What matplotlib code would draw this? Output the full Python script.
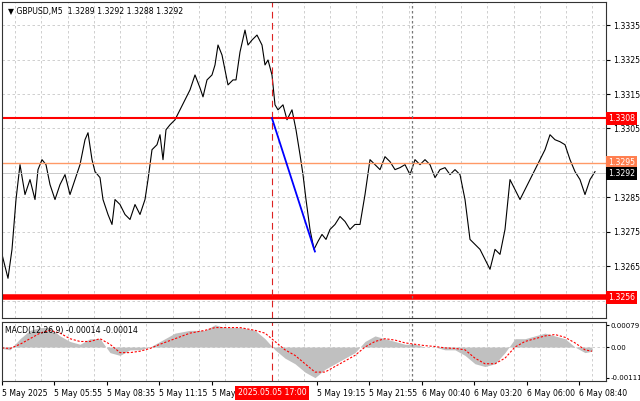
import matplotlib
matplotlib.use("Agg")
import matplotlib.pyplot as plt
import numpy as np

px = [2,8,12,16,20,25,30,35,38,42,46,50,55,60,65,70,75,80,85,88,92,95,100,103,108,112,115,120,125,130,135,140,145,148,152,157,160,163,166,170,175,180,185,190,195,200,203,207,212,215,218,222,228,233,236,240,245,248,252,257,262,265,268,272,275,278,283,287,292,296,300,303,306,310,314,318,322,326,330,335,340,345,350,355,360,365,370,375,380,385,390,395,400,405,410,415,420,425,430,435,440,445,450,455,460,465,470,475,480,485,490,495,500,505,510,515,520,525,530,535,540,545,550,555,560,565,570,575,580,585,590,595]
py = [255,279,250,200,165,195,180,200,170,160,165,185,200,185,175,195,180,165,140,133,160,172,178,200,215,225,200,205,215,220,205,215,200,180,150,145,135,160,130,125,120,110,100,90,75,88,97,80,75,65,45,55,85,80,80,52,30,45,40,35,45,65,60,75,105,110,105,120,110,130,155,175,200,230,250,242,235,240,230,225,217,222,230,225,225,195,160,165,170,157,162,170,168,165,175,160,165,160,165,178,170,168,175,170,175,200,240,245,250,260,270,250,255,230,180,190,200,190,180,170,160,150,135,140,142,145,160,172,180,195,180,172]
price = [1.3335 - (y - 25) / 3.457 * 0.0001 for y in py]
bars = [(x - 2) / 1.64 for x in px]

mx = [2,10,20,30,40,50,60,70,80,90,100,110,120,130,140,150,160,175,190,205,215,225,240,255,265,275,285,295,305,315,325,335,345,355,365,375,385,395,405,415,425,435,445,455,465,475,485,495,505,515,525,535,545,555,565,575,585,592]
hist = [-0.5,-1,3,6,7,7,4,2,1,3,3,-2,-3,-1,-1,0,2,5,6,6,8,7,7,6,3,-1,-4,-6,-9,-11,-8,-6,-4,-2,2,4,3,2,1,1,0,0,-1,-1,-3,-6,-7,-6,-2,3,3,4,5,4,3,0,-2,-1.5]
sig = [-0.3,-0.5,1,3,5,6,5,3,2,2,3,1,-2,-2,-1.5,-0.5,1,3,5,6,7,7,7,6,5,2,-1,-3,-6,-9,-9,-7,-5,-3,0,2,3,2.5,1.5,1,0.5,0.2,-0.3,-0.5,-1,-4,-6,-6,-4,0,2,3,4,4.5,3.5,1.5,-1,-1.5]
hist = [h * 0.0001 for h in hist]
sig = [s * 0.0001 for s in sig]
mbars = [(x - 2) / 1.64 for x in mx]

tick_bars = [0,32,64,96,128,192,224,256,288,320,352]
tick_labels = ["5 May 2025","5 May 05:55","5 May 08:35","5 May 11:15","5 May 1","5 May 19:15","5 May 21:55","6 May 00:40","6 May 03:20","6 May 06:00","6 May 08:40"]
yticks = [1.3335,1.3325,1.3315,1.3305,1.3285,1.3275,1.3265]

FS = 5.6
W, H = 640, 401
fig = plt.figure(figsize=(6.4, 4.01), dpi=100)
ax = fig.add_axes([2/W, 1-318/H, 604/W, 316/H])
mac = fig.add_axes([2/W, 1-381/H, 604/W, 59/H])
xmax = 604/1.64
for a in (ax, mac):
    a.set_xlim(0, xmax)
    for s in a.spines.values():
        s.set_color("#333333"); s.set_linewidth(0.8)
    for gx in np.arange(8, xmax, 16):
        a.axvline(gx, color="#c8c8c8", ls=(0,(3,3)), lw=0.6, zorder=0)
ax.set_ylim(1.3250, 1.33417)
for gy in yticks + [1.3255]:
    ax.axhline(gy, color="#c8c8c8", ls=(0,(3,3)), lw=0.6, zorder=0)
ax.plot(bars, price, color="black", lw=0.8)
ax.axhline(1.3308, color="#ff0000", lw=1.5)
ax.axhline(1.3256, color="#ff0000", lw=4)
ax.axhline(1.3295, color="#ff9966", lw=1)
ax.axhline(1.3292, color="#c0c0c0", lw=0.6)
for a in (ax, mac):
    a.axvline(164.6, color="#dd2222", ls=(0,(6,4)), lw=0.8)
    a.axvline(250, color="#777777", ls=(0,(2,2)), lw=0.9)
ax.plot([164.6, 190.8], [1.3308, 1.32693], color="#0000ff", lw=1.3)
ax.yaxis.tick_right()
ax.set_yticks(yticks)
ax.set_yticklabels([f"{v:.4f}" for v in yticks], fontsize=FS)
ax.tick_params(axis="y", length=3, pad=2)
ax.set_xticks([])
for val, fc in [(1.3308,"#ff0000"),(1.3295,"#ff7f50"),(1.3292,"black"),(1.3256,"#ff0000")]:
    ax.text(1.004, val, f"{val:.4f}", transform=ax.get_yaxis_transform(), fontsize=FS, color="white",
            va="center", ha="left", bbox=dict(boxstyle="square,pad=0.25", fc=fc, ec="none"))
ax.text(0.01, 0.985, "▼ GBPUSD,M5  1.3289 1.3292 1.3288 1.3292", transform=ax.transAxes, fontsize=FS, va="top")

mac.fill_between(mbars, hist, 0, color="#c0c0c0", lw=0)
mac.plot(mbars, sig, color="#ff0000", ls=(0,(2,1.5)), lw=0.8)
mac.set_ylim(-0.00122, 0.00090)
mac.axhline(0, color="#c8c8c8", ls=(0,(3,3)), lw=0.6, zorder=0)
mac.yaxis.tick_right()
mac.set_yticks([0.00079, 0.0, -0.00111])
mac.set_yticklabels(["0.00079","0.00","-0.00111"], fontsize=5.0)
mac.tick_params(axis="y", length=2, pad=1.5)
mac.text(0.005, 0.93, "MACD(12,26,9) -0.00014 -0.00014", transform=mac.transAxes, fontsize=FS, va="top")
mac.set_xticks(tick_bars)
mac.set_xticklabels(tick_labels, fontsize=FS, ha="left")
mac.tick_params(axis="x", length=3, pad=3)
mac.text(164.6, -0.00165, "2025.05.05 17:00", fontsize=FS, color="white", ha="center", va="center", zorder=10,
         bbox=dict(boxstyle="square,pad=0.3", fc="#ff0000", ec="none"), clip_on=False)
fig.savefig("out.png", dpi=100)
